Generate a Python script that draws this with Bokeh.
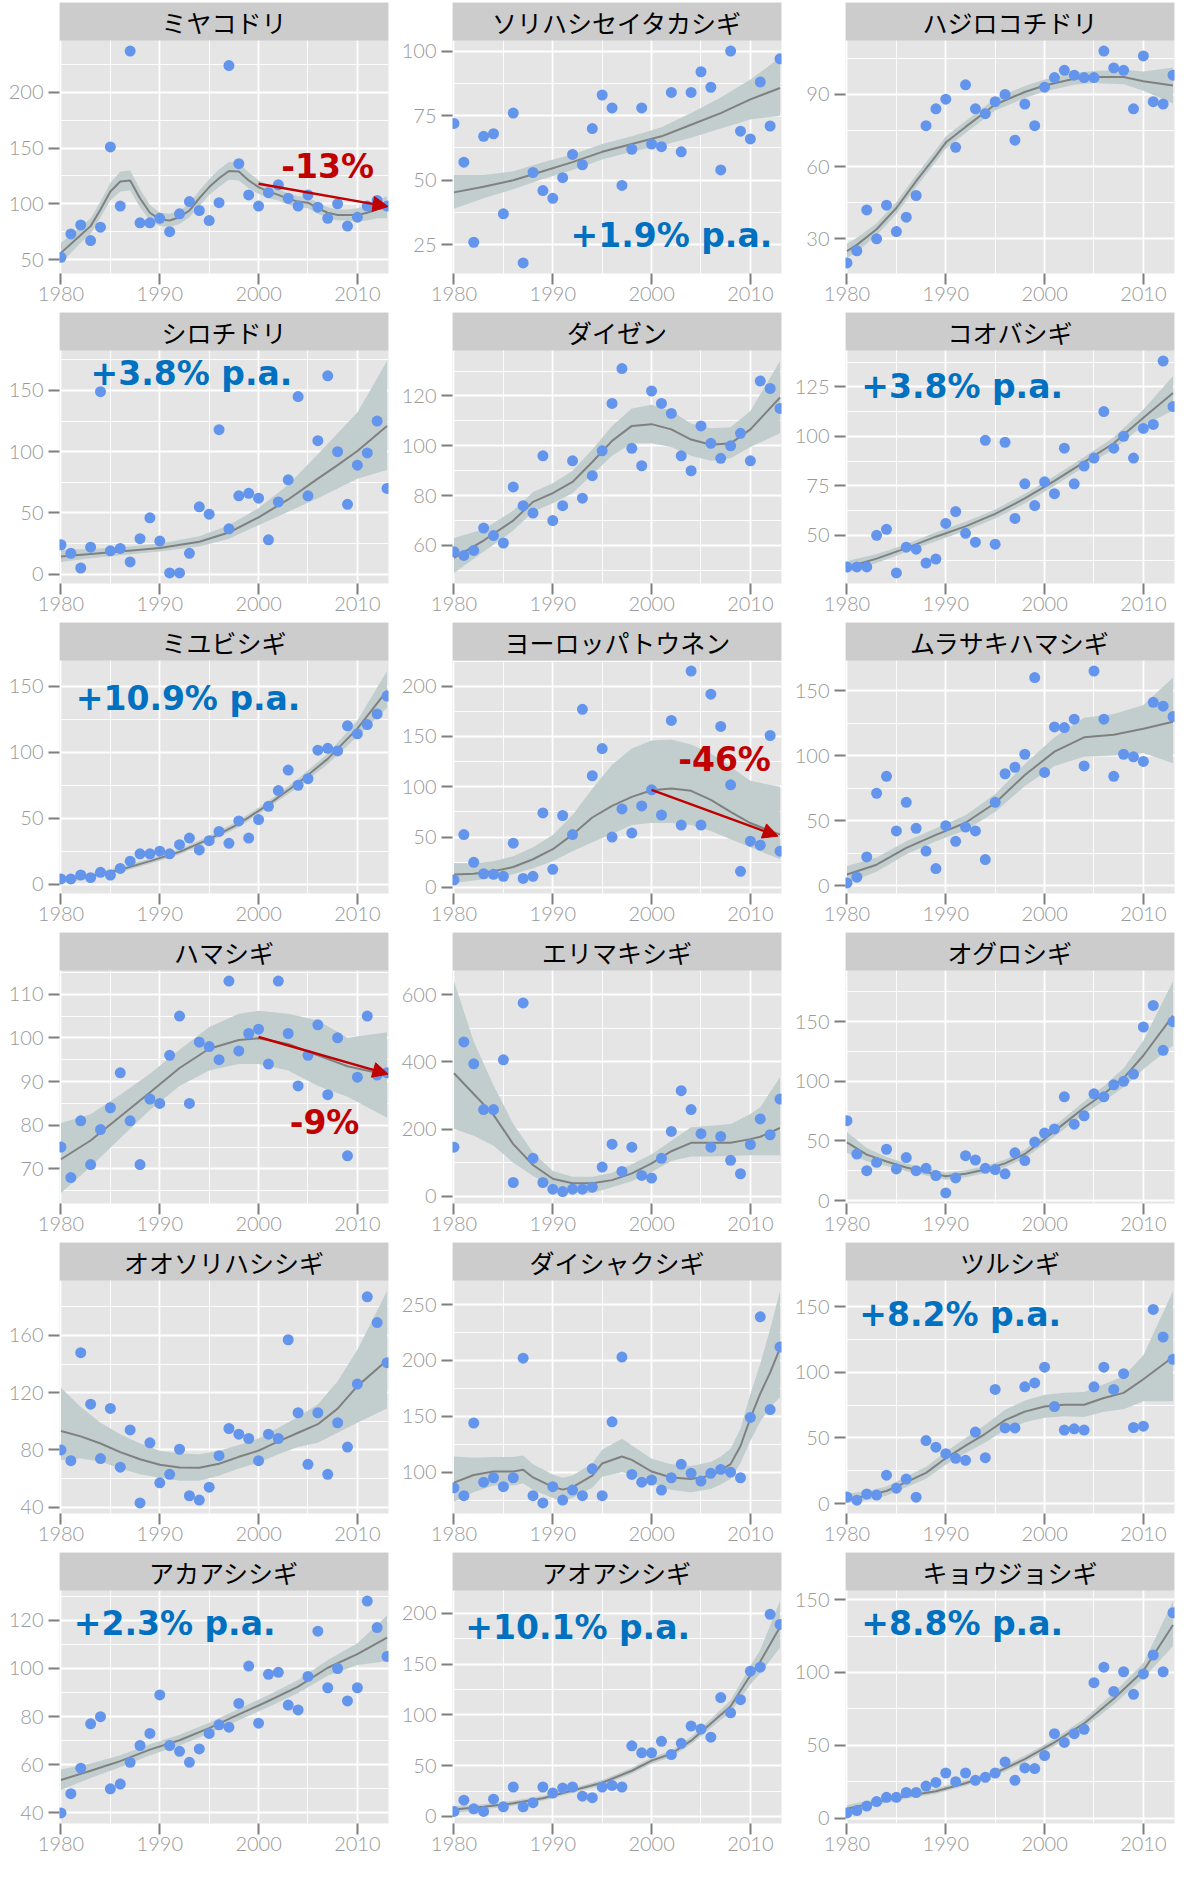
from bokeh.plotting import figure
from bokeh.layouts import gridplot
from bokeh.models import Range1d, FixedTicker, Label, Arrow, NormalHead
from bokeh.embed import file_html
from bokeh.resources import INLINE

# ---------------- data ----------------
years = list(range(1980, 2014))
x_ticks = [1980, 1990, 2000, 2010]
x_minor = [1985, 1995, 2005]

names = ["ミヤコドリ", "ソリハシセイタカシギ", "ハジロコチドリ",
         "シロチドリ", "ダイゼン", "コオバシギ",
         "ミユビシギ", "ヨーロッパトウネン", "ムラサキハマシギ",
         "ハマシギ", "エリマキシギ", "オグロシギ",
         "オオソリハシシギ", "ダイシャクシギ", "ツルシギ",
         "アカアシシギ", "アオアシシギ", "キョウジョシギ"]

# ミヤコドリ
oystercatcher_counts = [52, 73, 81, 67, 79, 151, 98, 237, 83, 83, 87, 75, 91, 102, 94, 85, 101, 224, 136, 108,
                        98, 110, 117, 105, 98, 108, 97, 87, 100, 80, 88, 98, 103, 98]
oystercatcher_fit_years = list(range(1980, 2014))
oystercatcher_fit = [56, 64, 72, 80, 95, 111, 120, 121, 105, 92, 86, 85, 88, 94, 105, 115, 123, 129.5, 129, 121,
                     115, 111, 108, 104.5, 102, 101, 96, 92, 90, 90, 90, 92, 95, 97]
oystercatcher_lo = [47, 56, 65, 73, 88, 103, 111, 112, 97, 85, 80, 79, 82, 88, 98, 108, 115, 121.5, 121, 114,
                    109, 105, 103, 99.5, 97, 96, 91, 87, 85, 85, 84, 85, 87, 87]
oystercatcher_hi = [65, 72, 79, 87, 102, 119, 129, 130, 113, 99, 92, 91, 94, 100, 112, 122, 131, 137.5, 137, 128,
                    121, 117, 113, 109.5, 107, 106, 101, 97, 95, 95, 96, 99, 103, 107]
oystercatcher_yticks = [50, 100, 150, 200]

# ソリハシセイタカシギ
avocet_counts = [72, 57, 26, 67, 68, 37, 76, 18, 53, 46, 43, 51, 60, 56, 70, 83, 78, 48, 62, 78,
                 64, 63, 84, 61, 84, 92, 86, 54, 100, 69, 66, 88, 71, 97]
avocet_fit_years = [1980, 1983, 1986, 1989, 1992, 1995, 1998, 2001, 2004, 2007, 2010, 2013]
avocet_fit = [45.3, 47.5, 50, 53.5, 57, 61, 64, 67, 71.5, 76, 81.3, 85.7]
avocet_lo = [39, 43, 46.5, 50.5, 54, 58, 61, 63.5, 66.5, 70, 73.5, 75]
avocet_hi = [52, 52, 53.5, 57, 60, 64, 67, 70.5, 76, 82, 89, 97.5]
avocet_yticks = [25, 50, 75, 100]

# ハジロコチドリ
ringed_plover_counts = [20, 25, 42, 30, 44, 33, 39, 48, 77, 84, 88, 68, 94, 84, 82, 87, 90, 71, 86, 77,
                        93, 97, 100, 98, 97, 97, 108, 101, 100, 84, 106, 87, 86, 98]
ringed_plover_fit_years = [1980, 1981, 1983, 1985, 1987, 1989, 1990, 1992, 1995, 1998, 2000, 2003, 2005, 2008, 2010, 2013]
ringed_plover_fit = [24.9, 27.5, 34, 42.8, 54, 64.5, 70, 76.5, 85.8, 91, 93.7, 96.5, 97.2, 97.2, 95.5, 93.7]
ringed_plover_lo = [22, 24.5, 31.5, 40.3, 51.5, 62, 67.5, 74, 83.3, 88.5, 91.2, 94, 94.7, 94.2, 91.5, 86.2]
ringed_plover_hi = [28, 30.5, 36.5, 45.3, 56.5, 67, 72.5, 79, 88.3, 93.5, 96.2, 99, 99.7, 100.2, 99.5, 101.2]
ringed_plover_yticks = [30, 60, 90]

# シロチドリ
kentish_plover_counts = [24, 17, 5, 22, 149, 19, 21, 10, 29, 46, 27, 1, 1, 17, 55, 49, 118, 37, 64, 66,
                         62, 28, 59, 77, 145, 64, 109, 162, 100, 57, 89, 99, 125, 70]
kentish_plover_fit_years = [1980, 1983, 1986, 1990, 1994, 1997, 2000, 2003, 2006, 2008, 2010, 2013]
kentish_plover_fit = [14.5, 16.5, 18.5, 21.4, 26.5, 34, 46.4, 61, 78, 89, 100.6, 121]
kentish_plover_lo = [10, 13, 15.5, 18.5, 22.5, 29, 40, 51, 62, 70, 78, 85]
kentish_plover_hi = [20, 20.5, 22, 25, 31, 40, 54, 73, 98, 115, 132, 174]
kentish_plover_yticks = [0, 50, 100, 150]

# ダイゼン
grey_plover_counts = [57.5, 56, 58, 67, 64, 61, 83.5, 76, 73, 96, 70, 76, 94, 79, 88, 98, 117, 131, 99, 92,
                      122, 117, 113, 96, 90, 108, 101, 95, 100, 105, 94, 126, 123, 115]
grey_plover_fit_years = [1980, 1983, 1986, 1988, 1990, 1992, 1994, 1996, 1998, 2000, 2002, 2004, 2006, 2008, 2010, 2013]
grey_plover_fit = [55, 62, 70, 77.5, 81, 85.5, 93.5, 102, 108, 108.7, 106.6, 102.5, 100.4, 101, 106.6, 119.4]
grey_plover_lo = [49, 57.5, 66, 73.5, 77, 81, 88.5, 96, 101, 101, 99.5, 96, 94, 95, 99.5, 105]
grey_plover_hi = [63, 66.5, 74, 81.5, 85, 90, 98.5, 108, 115, 116.5, 114, 109, 107, 107.5, 114, 134]
grey_plover_yticks = [60, 80, 100, 120]

# コオバシギ
knot_counts = [34, 34, 34, 50, 53, 31, 44, 43, 36, 38, 56, 62, 51, 46.5, 98, 45.5, 97, 58.5, 76, 65,
               77, 71, 94, 76, 85, 89, 112.5, 94, 100, 89, 104, 106, 138, 115]
knot_fit_years = [1980, 1983, 1986, 1989, 1992, 1995, 1998, 2001, 2004, 2007, 2010, 2013]
knot_fit = [33.9, 38.2, 43.5, 49.3, 54.5, 60.8, 68.6, 77.5, 87, 96.5, 109.4, 121.9]
knot_lo = [31, 36, 41.5, 47, 52.3, 58.5, 66, 75, 84.5, 93.5, 105.5, 113]
knot_hi = [37, 40.5, 45.5, 51.5, 56.8, 63, 71, 80, 89.5, 99.5, 113.5, 130.5]
knot_yticks = [50, 75, 100, 125]

# ミユビシギ
sanderling_counts = [4, 4, 7, 5, 9, 7, 12, 17.5, 23, 23, 25, 23, 30, 35, 26, 33, 40, 31, 48, 35,
                     49, 59, 71, 86.5, 75, 80, 101.6, 103, 101, 120, 114, 121, 129, 142.6]
sanderling_fit_years = [1980, 1983, 1986, 1989, 1992, 1995, 1998, 2001, 2004, 2007, 2010, 2013]
sanderling_fit = [3.1, 6.2, 11, 17.5, 24.5, 34.2, 45.8, 60.5, 76.7, 95, 117.9, 146.7]
sanderling_lo = [1, 4.2, 9, 15.5, 22.5, 32, 43.3, 58, 73.5, 91, 112, 133.5]
sanderling_hi = [5.5, 8.2, 13, 19.5, 26.5, 36.5, 48.3, 63, 80, 99, 124, 161.5]
sanderling_yticks = [0, 50, 100, 150]

# ヨーロッパトウネン
little_stint_counts = [7.5, 52.5, 25, 13.6, 13, 11, 44, 9, 11, 74, 18, 71.5, 52.5, 177, 111, 138, 50, 78, 54, 81,
                       97, 72, 166, 62, 215, 62, 192, 160, 102, 16, 46, 42, 151, 36]
little_stint_fit_years = [1980, 1982, 1984, 1986, 1988, 1990, 1992, 1994, 1996, 1998, 2000, 2002, 2004, 2006, 2008, 2010, 2013]
little_stint_fit = [12.9, 13.6, 16, 20.3, 28, 38, 52.5, 69.5, 81, 90, 96.6, 98.3, 96, 87, 75, 64, 52.5]
little_stint_lo = [4.5, 7, 9.5, 13, 19, 26, 36, 45, 53, 62, 64, 64, 62, 56, 48, 40, 28]
little_stint_hi = [24, 24, 26, 31, 40, 52, 72, 98, 122, 138, 146, 147, 142, 133, 120, 106, 100]
little_stint_yticks = [0, 50, 100, 150, 200]

# ムラサキハマシギ
purple_sandpiper_counts = [2, 6.4, 22, 71, 84, 42, 64, 44, 26.5, 13, 46, 34, 45, 42, 20, 64, 86, 91, 101, 160,
                           87, 122, 121.5, 128, 92, 165, 128, 84, 101, 99, 95.5, 141, 138, 130]
purple_sandpiper_fit_years = [1980, 1983, 1986, 1989, 1992, 1995, 1998, 2001, 2004, 2007, 2010, 2013]
purple_sandpiper_fit = [8.5, 16, 29, 39, 48.3, 63.5, 85, 103, 114, 116, 120.7, 126]
purple_sandpiper_lo = [2, 10.5, 24, 34, 42.5, 56.5, 76.5, 92, 99, 100, 102, 94]
purple_sandpiper_hi = [15, 21.5, 34, 44, 54, 70.5, 93.5, 114, 129, 132, 139, 160]
purple_sandpiper_yticks = [0, 50, 100, 150]

# ハマシギ
dunlin_counts = [75, 68, 81, 71, 79, 84, 92, 81, 71, 86, 85, 96, 105, 85, 99, 98, 95, 113, 97, 101,
                 102, 94, 113, 101, 89, 96, 103, 87, 100, 73, 91, 105, 91.5, 92]
dunlin_fit_years = [1980, 1983, 1986, 1989, 1992, 1995, 1998, 2000, 2003, 2006, 2009, 2013]
dunlin_fit = [72.2, 76.5, 82, 87.5, 93.1, 97.5, 99.5, 99.9, 98.6, 96, 93.5, 91.5]
dunlin_lo = [64.5, 70.5, 77, 83.5, 89, 92.5, 94, 94, 92.5, 89, 86.5, 81.7]
dunlin_hi = [80.5, 82.5, 87, 91.8, 97.3, 102.5, 105.5, 106.2, 105.5, 104, 100, 101.3]
dunlin_yticks = [70, 80, 90, 100, 110]

# エリマキシギ
ruff_counts = [146, 459, 394, 258, 258, 406, 41, 575, 113, 41, 21, 14, 21, 21, 27, 87, 155, 74, 146, 62,
               54, 113, 193, 314, 258, 186, 146, 178, 107, 67, 154, 230, 183, 289]
ruff_fit_years = [1980, 1982, 1984, 1986, 1988, 1990, 1992, 1994, 1996, 1998, 2000, 2002, 2004, 2006, 2008, 2010, 2011, 2013]
ruff_fit = [366, 304, 242, 155, 93, 52, 39, 39, 48, 68, 98, 134, 159, 159, 159, 170, 177, 203]
ruff_lo = [200, 180, 150, 100, 60, 30, 10, 10, 27, 45, 72, 105, 118, 118, 120, 122, 122, 122]
ruff_hi = [640, 460, 330, 215, 130, 75, 58, 58, 70, 95, 125, 165, 205, 210, 215, 245, 265, 355]
ruff_yticks = [0, 200, 400, 600]

# オグロシギ
bt_godwit_counts = [67, 39, 25, 32, 43, 26.5, 36, 25, 27, 21, 6.4, 19, 37.6, 34, 27, 26, 22.4, 40, 33.5, 49,
                    56.6, 60, 87, 64, 71, 89.5, 87, 97, 100, 106, 145.5, 163.6, 126, 150]
bt_godwit_fit_years = [1980, 1982, 1984, 1986, 1988, 1990, 1992, 1994, 1996, 1998, 2000, 2002, 2004, 2006, 2008, 2010, 2013]
bt_godwit_fit = [48.7, 38.5, 32.7, 27.7, 23.9, 20.4, 22.4, 26, 31.2, 39, 51.6, 64.7, 77.8, 89.5, 102.6, 121.6, 155.1]
bt_godwit_lo = [40, 33, 29, 24.5, 21, 17.5, 19.5, 23, 28, 35.5, 47.5, 60, 72.5, 83.5, 95, 110, 130]
bt_godwit_hi = [57.5, 44, 36.5, 31, 27, 23.5, 25.5, 29, 34.5, 42.5, 56, 69.5, 83, 96, 111, 134, 184]
bt_godwit_yticks = [0, 50, 100, 150]

# オオソリハシシギ
bar_godwit_counts = [80, 72.5, 148, 112, 74, 109, 68, 94, 43, 85, 57, 63, 80.5, 48, 45, 54, 76, 95, 91, 88,
                     72.5, 91, 88, 157, 106, 70, 106, 63, 99, 82, 126, 187, 169, 141]
bar_godwit_fit_years = [1980, 1982, 1984, 1986, 1988, 1990, 1992, 1994, 1996, 1998, 2000, 2002, 2004, 2006, 2008, 2010, 2013]
bar_godwit_fit = [93.3, 89.5, 84.5, 78.5, 73.5, 69.7, 67.7, 67.5, 70.4, 75.2, 79.5, 86, 92, 98, 108.9, 124.6, 142.7]
bar_godwit_lo = [73, 74, 72, 67, 63, 60.5, 58.5, 58.5, 62, 67, 71, 77, 82, 85, 92, 99, 109]
bar_godwit_hi = [123.5, 110, 99, 91, 84.5, 79.5, 77.5, 77, 79.5, 83.5, 88, 95.5, 103, 112, 128, 150, 191]
bar_godwit_yticks = [40, 80, 120, 160]

# ダイシャクシギ
curlew_counts = [86, 79, 144, 91, 95, 87, 95, 202, 79, 72.5, 87, 75, 84, 79, 103, 79, 145, 203, 98, 91,
                 93, 84, 95, 107, 99, 92, 99, 102.5, 100, 95, 149, 239, 156, 212]
curlew_fit_years = [1980, 1982, 1984, 1986, 1987, 1988, 1990, 1991, 1992, 1994, 1995, 1997, 1998, 2000, 2002,
                    2004, 2006, 2007, 2008, 2009, 2010, 2011, 2012, 2013]
curlew_fit = [90.6, 97.5, 100.6, 100.6, 102.2, 95.3, 86.9, 84.4, 86.6, 96.9, 107.8, 114, 111, 100.6, 95.3,
              93.8, 96.9, 101.6, 107.2, 123.4, 148.4, 170.3, 189, 211]
curlew_lo = [73.5, 82, 88, 88, 90, 84, 77, 74.5, 77, 86, 96, 100, 98, 90, 84,
             82, 85, 89, 94, 108, 128, 145, 158, 167]
curlew_hi = [114, 113, 113.5, 113.5, 115, 107, 98, 95, 97, 108, 120, 130, 124, 112, 107,
             105.5, 109, 114, 121, 139, 170, 197, 228, 262]
curlew_yticks = [100, 150, 200, 250]

# ツルシギ
spotted_redshank_counts = [5, 2.6, 7.3, 6.5, 21.6, 11.7, 18.7, 4.9, 48, 43, 38, 34.5, 33, 54.5, 35, 87, 57.7, 57.7, 89, 92,
                           104, 74, 56, 57, 56, 89, 104, 87, 99, 58, 59, 148, 127, 110]
spotted_redshank_fit_years = [1980, 1982, 1984, 1986, 1988, 1990, 1992, 1994, 1996, 1998, 2000, 2002, 2004, 2006, 2008, 2010, 2013]
spotted_redshank_fit = [3.1, 6, 9.6, 16.4, 23.4, 34.5, 44.2, 53.2, 63.6, 70.1, 74, 75.3, 75.3, 80.5, 84.4, 94.8, 111.7]
spotted_redshank_lo = [0.5, 2.5, 6, 12.5, 19, 29.5, 38.5, 46.5, 56, 62, 65.5, 66.5, 66, 70, 72, 78, 78]
spotted_redshank_hi = [7.5, 9.5, 13, 20.5, 28, 39.5, 50, 60, 71.5, 78.5, 83, 84.5, 85, 91, 97, 113, 162]
spotted_redshank_yticks = [0, 50, 100, 150]

# アカアシシギ
redshank_counts = [40, 48, 58.6, 77, 80, 50, 52, 61, 68, 73, 89, 68, 65.6, 61, 66.6, 73, 76.6, 75.6, 85.5, 101,
                   77.3, 97.6, 98.4, 84.8, 82.8, 96.7, 115.5, 92, 100, 86.5, 92, 128, 117, 105]
redshank_fit_years = [1980, 1983, 1986, 1989, 1992, 1995, 1998, 2001, 2004, 2007, 2010, 2013]
redshank_fit = [53.7, 57.5, 61.5, 66.3, 70.2, 75.2, 80.9, 86.5, 92.5, 100.3, 106, 112.8]
redshank_lo = [49.5, 54.5, 59, 64, 68, 73, 78.5, 84, 89.8, 97, 101.5, 103]
redshank_hi = [58, 60.5, 64, 68.5, 72.5, 77.5, 83.3, 89, 95.2, 103.5, 110.5, 122]
redshank_yticks = [40, 60, 80, 100, 120]

# アオアシシギ
greenshank_counts = [5, 16, 7.5, 5, 17, 9.5, 29, 9.5, 13.6, 29, 23, 28, 29, 20, 18.5, 29, 30.5, 29, 69.5, 62.7,
                     62.7, 74, 61, 72, 89, 86, 78, 117, 102, 115, 143, 147, 199, 189]
greenshank_fit_years = [1980, 1983, 1986, 1989, 1992, 1995, 1998, 2000, 2002, 2004, 2006, 2008, 2010, 2011, 2013]
greenshank_fit = [6.8, 9.5, 13, 18, 25.5, 33.2, 45, 55, 61.7, 74.6, 91.5, 108.5, 139, 152.5, 186.4]
greenshank_lo = [3.5, 7, 10.5, 15.5, 23, 30.5, 42, 52, 58.5, 71, 87, 102.5, 130, 141, 166]
greenshank_hi = [10, 12, 15.5, 20.5, 28, 36, 48, 58, 65, 78.5, 96, 114.5, 148, 164, 212]
greenshank_yticks = [0, 50, 100, 150, 200]

# キョウジョシギ
turnstone_counts = [3.6, 5.2, 8.3, 11.4, 14.3, 14.3, 17.6, 17.6, 22, 24.5, 31, 25, 31, 26, 28, 31, 38.6, 26, 34.5, 34,
                    43, 58, 52, 58, 61, 93, 103.6, 87, 100.5, 85, 99, 112, 100.5, 141]
turnstone_fit_years = [1980, 1983, 1986, 1989, 1992, 1995, 1998, 2001, 2004, 2007, 2010, 2013]
turnstone_fit = [6.4, 11, 15.2, 18.5, 24, 31, 40.5, 52, 65, 82, 101.2, 132.6]
turnstone_lo = [4, 9, 13.3, 16.7, 22.2, 29, 38.3, 49.5, 62, 78, 96, 118]
turnstone_hi = [9, 13, 17.2, 20.5, 26, 33, 42.8, 54.5, 68, 86, 106.5, 149]
turnstone_yticks = [0, 50, 100, 150]

# annotations (panel index, text, anchor year, anchor value)
annot_panel = [0, 1, 3, 5, 6, 7, 9, 14, 15, 16, 17]
annot_text = ["-13%", "+1.9% p.a.", "+3.8% p.a.", "+3.8% p.a.", "+10.9% p.a.", "-46%", "-9%",
              "+8.2% p.a.", "+2.3% p.a.", "+10.1% p.a.", "+8.8% p.a."]
annot_x = [2002.3, 1991.8, 1983.0, 1981.45, 1981.5, 2002.7, 2003.15, 1981.25, 1981.3, 1981.15, 1981.45]
annot_y = [133.5, 28.5, 164, 125.3, 141, 127, 80.6, 144, 118.5, 186, 133.5]

arrow_panel = [0, 7, 9]
arrow_x0 = [2000, 2000, 2000]
arrow_y0 = [118, 97, 100.2]
arrow_x1 = [2013.1, 2012.8, 2013.1]
arrow_y1 = [97.5, 51, 91.7]

keys = ["oystercatcher", "avocet", "ringed_plover", "kentish_plover", "grey_plover", "knot",
        "sanderling", "little_stint", "purple_sandpiper", "dunlin", "ruff", "bt_godwit",
        "bar_godwit", "curlew", "spotted_redshank", "redshank", "greenshank", "turnstone"]
G = globals()
panels = []
for k, nm in zip(keys, names):
    panels.append(dict(name=nm, counts=G[k + "_counts"], fy=G[k + "_fit_years"], fit=G[k + "_fit"],
                       lo=G[k + "_lo"], hi=G[k + "_hi"], yticks=G[k + "_yticks"]))

# ---------------- layout / style ----------------
W = 393
H = 310
STRIP_PX = 38          # facet strip height (drawn at the top of the frame)
PANEL_PX = 233         # data area height
LB, RB, TB, BB = 59, 5, 2, 37
X0, X1 = 1979.85, 2013.15
BLUE_PT = "#6495ed"
BAND = "#c2cece"
LINE = "#808080"
AX_FONT = "Lato Light"


def style_axes(p):
    for ax in (p.xaxis[0], p.yaxis[0]):
        ax.axis_line_color = None
        ax.major_tick_in = 0
        ax.major_tick_out = 11
        ax.major_tick_line_color = "#7f7f7f"
        ax.major_tick_line_width = 2
        ax.minor_tick_line_color = None
        ax.major_label_text_color = "#999999"
        ax.major_label_text_font = AX_FONT
        ax.major_label_text_font_size = "20px"
    p.xaxis.major_label_standoff = 2
    p.yaxis.major_label_standoff = 5
    for g in (p.xgrid[0], p.ygrid[0]):
        g.grid_line_color = "white"
        g.grid_line_width = 1.8
        g.minor_grid_line_color = "white"
        g.minor_grid_line_width = 0.9


def make_panel(i):
    sp = panels[i]
    lo = min(min(sp["counts"]), min(sp["lo"]))
    hi = max(max(sp["counts"]), max(sp["hi"]))
    pad = 0.05 * (hi - lo)
    y0, y1 = lo - pad, hi + pad
    ytop = y1 + (y1 - y0) * STRIP_PX / PANEL_PX   # extra room on top of the frame for the strip
    p = figure(width=W, height=H, x_range=Range1d(X0, X1), y_range=Range1d(y0, ytop), title=None,
               toolbar_location=None, output_backend="svg",
               min_border_left=LB, min_border_right=RB, min_border_top=TB, min_border_bottom=BB,
               background_fill_color="#e5e5e5", border_fill_color="white", outline_line_color=None)

    yt = sp["yticks"]
    step = yt[1] - yt[0]
    yminor = [v + step / 2 for v in [yt[0] - step] + yt]
    yminor = [v for v in yminor if y0 < v < y1]
    xtk = FixedTicker(ticks=x_ticks, minor_ticks=x_minor)
    ytk = FixedTicker(ticks=yt, minor_ticks=yminor)
    p.xaxis.ticker = xtk
    p.yaxis.ticker = ytk
    p.xgrid.ticker = xtk
    p.ygrid.ticker = ytk
    style_axes(p)

    p.varea(x=sp["fy"], y1=sp["lo"], y2=sp["hi"], fill_color=BAND)
    p.line(x=sp["fy"], y=sp["fit"], line_color=LINE, line_width=2)
    p.scatter(x=years, y=sp["counts"], size=11, fill_color=BLUE_PT, line_color=None)

    # facet strip with the species name
    p.quad(left=[X0], right=[X1], bottom=[y1], top=[ytop], fill_color="#cccccc", line_color=None)
    p.add_layout(Label(x=(X0 + X1) / 2, y=(y1 + ytop) / 2, text=sp["name"], text_align="center",
                       text_baseline="middle", text_font="Noto Sans CJK JP", text_font_size="25px",
                       text_color="#000000"))

    for j, pi in enumerate(annot_panel):
        if pi == i:
            txt = annot_text[j]
            col = "#c00000" if txt.startswith("-") else "#0070c0"
            p.add_layout(Label(x=annot_x[j], y=annot_y[j], text=txt, text_align="left",
                               text_baseline="middle", text_font="DejaVu Sans", text_font_style="bold",
                               text_font_size="33px", text_color=col))
    for j, pi in enumerate(arrow_panel):
        if pi == i:
            p.add_layout(Arrow(end=NormalHead(size=15, fill_color="#c00000", line_color="#c00000"),
                               x_start=arrow_x0[j], y_start=arrow_y0[j],
                               x_end=arrow_x1[j], y_end=arrow_y1[j],
                               line_color="#c00000", line_width=2.5))
    return p


rows = []
for r in range(6):
    rows.append([make_panel(r * 3 + c) for c in range(3)])

grid = gridplot(rows, toolbar_location=None)
open("out.html", "w").write(file_html(grid, INLINE))
